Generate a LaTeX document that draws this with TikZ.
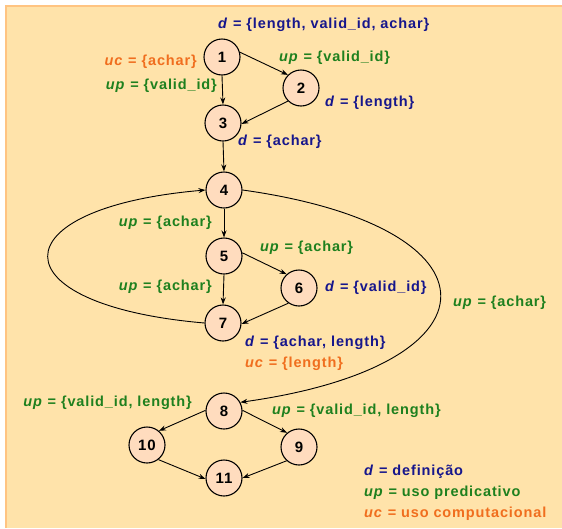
\documentclass[tikz,border=0pt]{standalone}
\usepackage{fontspec}
\setmainfont{Liberation Sans}[LetterSpace=6]
\usetikzlibrary{arrows.meta}
\definecolor{bg}{RGB}{255,227,170}
\definecolor{bgline}{RGB}{255,196,130}
\definecolor{nodefill}{RGB}{255,220,190}
\definecolor{dblue}{RGB}{22,22,140}
\definecolor{dgreen}{RGB}{30,128,30}
\definecolor{dorange}{RGB}{240,110,30}
\newcommand{\dvar}{\textit{d}}
\newcommand{\upvar}{\textit{up}}
\newcommand{\ucvar}{\textit{uc}}
\begin{document}
\begin{tikzpicture}[x=1pt,y=-1pt,
  stnode/.style={circle, draw, line width=1.1pt, fill=nodefill, minimum size=36pt, inner sep=0pt, font=\fontsize{15}{15}\selectfont\bfseries},
  lbl/.style={inner sep=0pt, font=\fontsize{14.5}{16}\selectfont\bfseries},
  arr/.style={-{Stealth[length=7pt,width=5pt]}, line width=0.9pt}]
\useasboundingbox (0,0) rectangle (562,528);
\fill[white] (0,0) rectangle (562,528);
\fill[bg] (5,5) rectangle (562,528);
\draw[bgline, line width=1.5pt] (5.75,528) -- (5.75,5.75) -- (562,5.75);

% nodes
\node[stnode] (n1) at (222,57) {1};
\node[stnode] (n2) at (301,88) {2};
\node[stnode] (n3) at (223,123) {3};
\node[stnode] (n4) at (224,190) {4};
\node[stnode] (n5) at (224,256) {5};
\node[stnode] (n6) at (299,288) {6};
\node[stnode] (n7) at (223,323) {7};
\node[stnode] (n8) at (224,411) {8};
\node[stnode] (n10) at (147,445) {10};
\node[stnode] (n9) at (299,447) {9};
\node[stnode] (n11) at (224,478) {11};

% edges
\draw[arr] (n1.15) -- (n2.135);
\draw[arr] (n1.south) -- (n3.north);
\draw[arr] (n2.225) -- (n3.-3);
\draw[arr] (n3.south) -- (n4.north);
\draw[arr] (n4.south) -- (n5.north);
\draw[arr] (n5.10) -- (n6.132);
\draw[arr] (n5.south) -- (n7.north);
\draw[arr] (n6.235) -- (n7.-3);
\draw[arr] (n7.west) .. controls +(-209,-18) and +(-209,18) .. (n4.west);
\draw[arr] (n4.east) .. controls +(265,37) and +(265,-37) .. (n8.28);
\draw[arr] (n8.178) -- (n10.50);
\draw[arr] (n8.2) -- (n9.130);
\draw[arr] (n10.-52) -- (n11.183);
\draw[arr] (n9.228) -- (n11.0);

% labels
\node[lbl, anchor=west, text=dblue] (t1) at (218,25) {\dvar{} = \{length, valid\_id, achar\}};
\node[lbl, anchor=east, text=dorange] (t2) at (197,62) {\ucvar{} = \{achar\}};
\node[lbl, anchor=east, text=dgreen] (t3) at (217,86) {\upvar{} = \{valid\_id\}};
\node[lbl, anchor=west, text=dgreen] (t4) at (279,58) {\upvar{} = \{valid\_id\}};
\node[lbl, anchor=west, text=dblue] (t5) at (325,103) {\dvar{} = \{length\}};
\node[lbl, anchor=west, text=dblue] (t6) at (238,142) {\dvar{} = \{achar\}};
\node[lbl, anchor=east, text=dgreen] (t7) at (212,223) {\upvar{} = \{achar\}};
\node[lbl, anchor=west, text=dgreen] (t8) at (260,248) {\upvar{} = \{achar\}};
\node[lbl, anchor=east, text=dgreen] (t9) at (212,287) {\upvar{} = \{achar\}};
\node[lbl, anchor=west, text=dblue] (t10) at (325,288) {\dvar{} = \{valid\_id\}};
\node[lbl, anchor=west, text=dblue] (t11) at (245,343) {\dvar{} = \{achar, length\}};
\node[lbl, anchor=west, text=dorange] (t12) at (245,364) {\ucvar{} = \{length\}};
\node[lbl, anchor=west, text=dgreen] (t13) at (453,303) {\upvar{} = \{achar\}};
\node[lbl, anchor=east, text=dgreen] (t14) at (192,403) {\upvar{} = \{valid\_id, length\}};
\node[lbl, anchor=west, text=dgreen] (t15) at (272,411) {\upvar{} = \{valid\_id, length\}};

% legend
\node[lbl, anchor=west, text=dblue] (g1) at (364,472) {\dvar{} = definição};
\node[lbl, anchor=west, text=dgreen] (g2) at (364,493) {\upvar{} = uso predicativo};
\node[lbl, anchor=west, text=dorange] (g3) at (364,514) {\ucvar{} = uso computacional};
\end{tikzpicture}
\end{document}
